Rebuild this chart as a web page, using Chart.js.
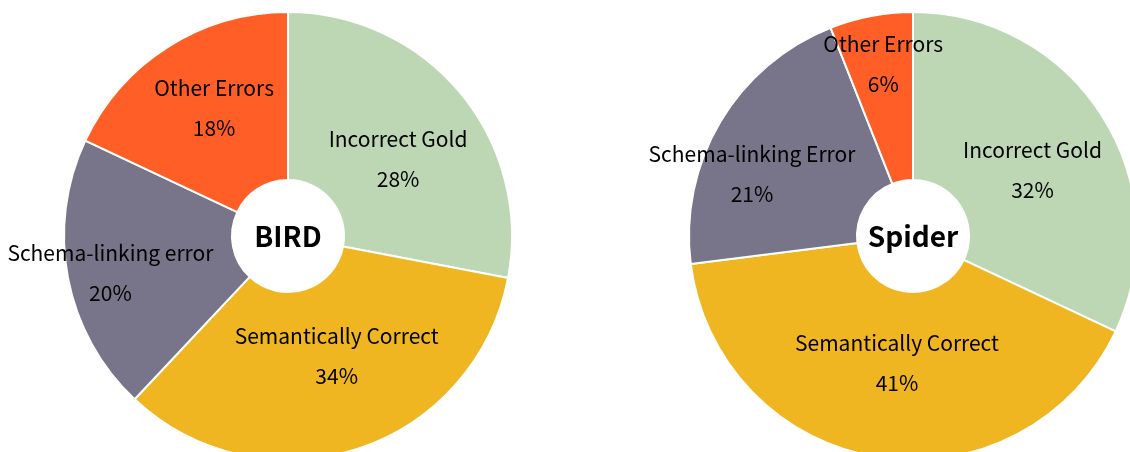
<!DOCTYPE html>
<html>
<head>
<meta charset="utf-8">
<script src="https://cdn.jsdelivr.net/npm/chart.js@4"></script>
<style>
html,body{margin:0;padding:0;width:1130px;height:452px;overflow:hidden;background:#fff;}
.wrap{position:absolute;top:0;}
canvas{display:block;}
</style>
</head>
<body>
<div class="wrap" style="left:0"><canvas id="bird" width="565" height="462"></canvas></div>
<div class="wrap" style="left:565px"><canvas id="spider" width="575" height="462"></canvas></div>
<script>
const birdCategories = ['Incorrect Gold', 'Semantically Correct', 'Schema-linking error', 'Other Errors'];
const birdValues = [28, 34, 20, 18];
const spiderCategories = ['Incorrect Gold', 'Semantically Correct', 'Schema-linking Error', 'Other Errors'];
const spiderValues = [32, 41, 21, 6];
const sliceColors = ['#BDD7B4', '#F0B622', '#787489', '#FF5F27'];

// label layout: radial fraction of outer radius, angle nudge (degrees)
const birdLabelLayout = [[0.60, 4.6], [0.58, -4], [0.81, -1], [0.66, 2.4]];
const spiderLabelLayout = [[0.61, 3.4], [0.57, -1.8], [0.77, -9.6], [0.78, 1]];

const FONT = '"Noto Sans CJK KR", "Noto Sans", sans-serif';

const labelPlugin = {
  id: 'sliceLabels',
  afterDatasetsDraw(chart, args, opts) {
    const ctx = chart.ctx;
    const meta = chart.getDatasetMeta(0);
    const data = chart.data.datasets[0].data;
    const total = data.reduce((a, b) => a + b, 0);
    ctx.save();
    ctx.fillStyle = '#000';
    ctx.textAlign = 'center';
    ctx.textBaseline = 'middle';
    ctx.font = '21px ' + FONT;
    meta.data.forEach((arc, i) => {
      const p = arc.getProps(['x', 'y', 'startAngle', 'endAngle', 'outerRadius'], true);
      const lay = opts.layout[i];
      const mid = (p.startAngle + p.endAngle) / 2 + lay[1] * Math.PI / 180;
      const r = p.outerRadius * lay[0];
      const cx = p.x + Math.cos(mid) * r;
      const cy = p.y + Math.sin(mid) * r;
      ctx.fillText(chart.data.labels[i], cx, cy - 20);
      ctx.fillText(Math.round(data[i] / total * 100) + '%', cx, cy + 20);
    });
    // center title
    const a0 = meta.data[0];
    ctx.font = 'bold 28px ' + FONT;
    ctx.fillText(opts.title, a0.x, a0.y);
    ctx.restore();
  }
};

function makeChart(id, labels, values, layout, title, padding) {
  return new Chart(document.getElementById(id), {
    type: 'doughnut',
    data: {
      labels: labels,
      datasets: [{
        data: values,
        backgroundColor: sliceColors,
        borderColor: '#ffffff',
        borderWidth: 2,
        hoverOffset: 0
      }]
    },
    options: {
      responsive: false,
      animation: false,
      devicePixelRatio: 1,
      cutout: '25%',
      layout: { padding: padding },
      plugins: {
        legend: { display: false },
        tooltip: { enabled: false },
        sliceLabels: { layout: layout, title: title }
      }
    },
    plugins: [labelPlugin]
  });
}

makeChart('bird', birdCategories, birdValues, birdLabelLayout, 'BIRD', { left: 63, right: 52, top: 11, bottom: 1 });
makeChart('spider', spiderCategories, spiderValues, spiderLabelLayout, 'Spider', { left: 123, right: 2, top: 11, bottom: 1 });
</script>
</body>
</html>
